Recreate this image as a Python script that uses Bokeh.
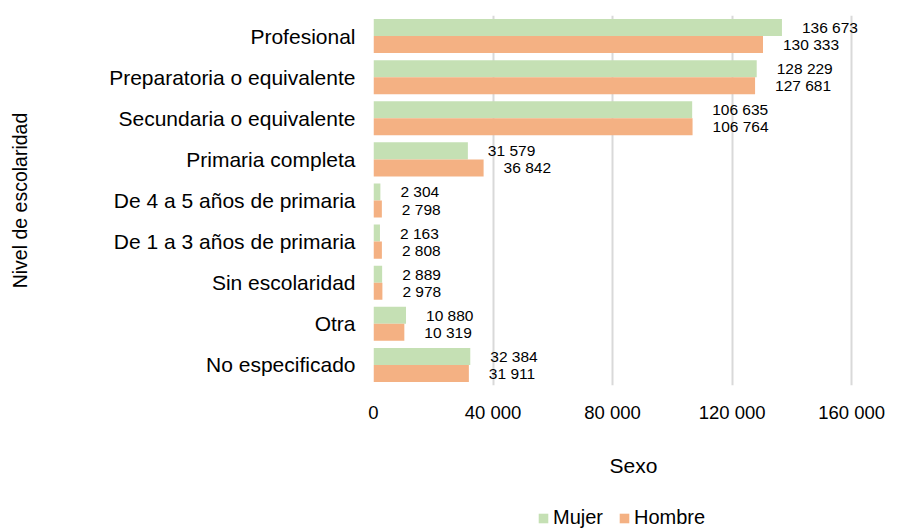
from bokeh.plotting import figure
from bokeh.layouts import column
from bokeh.models import (ColumnDataSource, FactorRange, Range1d, FixedTicker,
                          CustomJSTickFormatter, Legend, LegendItem)
from bokeh.transform import dodge
from bokeh.core.properties import value
from bokeh.embed import file_html
from bokeh.resources import INLINE

categories = ["Profesional", "Preparatoria o equivalente", "Secundaria o equivalente",
              "Primaria completa", "De 4 a 5 años de primaria", "De 1 a 3 años de primaria",
              "Sin escolaridad", "Otra", "No especificado"]
mujer = [136673, 128229, 106635, 31579, 2304, 2163, 2889, 10880, 32384]
hombre = [130333, 127681, 106764, 36842, 2798, 2808, 2978, 10319, 31911]
x_ticks = [0, 40000, 80000, 120000, 160000]
series_names = ["Mujer", "Hombre"]

FONT = "Liberation Sans"
GREEN = "#C5E0B4"
ORANGE = "#F4B183"


def fmt(v):
    return f"{v:,}".replace(",", " ")


src = ColumnDataSource(dict(
    cat=categories,
    mujer=mujer,
    hombre=hombre,
    mujer_lbl=[fmt(v) for v in mujer],
    hombre_lbl=[fmt(v) for v in hombre],
))

p = figure(width=917, height=490, output_backend="svg", toolbar_location=None,
           y_range=FactorRange(factors=list(reversed(categories))),
           x_range=Range1d(0, 174000),
           min_border_left=373, min_border_right=24, min_border_top=15, min_border_bottom=105)
p.outline_line_color = None
p.background_fill_color = None
p.border_fill_color = "white"

p.hbar(y=dodge("cat", 0.207, range=p.y_range), right="mujer", left=0, height=0.414,
       source=src, fill_color=GREEN, line_color=None)
p.hbar(y=dodge("cat", -0.207, range=p.y_range), right="hombre", left=0, height=0.414,
       source=src, fill_color=ORANGE, line_color=None)

p.text(x="mujer", y=dodge("cat", 0.207, range=p.y_range), text="mujer_lbl", source=src,
       x_offset=20, text_align="left", text_baseline="middle",
       text_font=value(FONT), text_font_size="15.5px", text_color="#000000")
p.text(x="hombre", y=dodge("cat", -0.207, range=p.y_range), text="hombre_lbl", source=src,
       x_offset=20, text_align="left", text_baseline="middle",
       text_font=value(FONT), text_font_size="15.5px", text_color="#000000")

# grid
p.ygrid.grid_line_color = None
p.xgrid.ticker = FixedTicker(ticks=x_ticks)
p.xgrid.grid_line_color = "#D9D9D9"
p.xgrid.grid_line_width = 2

# x axis
xa = p.xaxis[0]
xa.ticker = FixedTicker(ticks=x_ticks)
xa.formatter = CustomJSTickFormatter(code="return tick.toLocaleString('en-US').replace(/,/g, ' ');")
xa.axis_line_color = None
xa.major_tick_line_color = None
xa.minor_tick_line_color = None
xa.major_tick_out = 0
xa.major_label_standoff = 16
xa.major_label_text_font = FONT
xa.major_label_text_font_size = "18.5px"
xa.major_label_text_color = "#000000"
xa.axis_label = "Sexo"
xa.axis_label_text_font = FONT
xa.axis_label_text_font_size = "21px"
xa.axis_label_text_font_style = "normal"
xa.axis_label_text_color = "#000000"
xa.axis_label_standoff = 28

# y axis
ya = p.yaxis[0]
ya.axis_line_color = None
ya.major_tick_line_color = None
ya.minor_tick_line_color = None
ya.major_tick_out = 0
ya.major_label_standoff = 18
ya.major_label_text_font = FONT
ya.major_label_text_font_size = "21px"
ya.major_label_text_color = "#000000"
ya.axis_label = "Nivel de escolaridad"
ya.axis_label_text_font = FONT
ya.axis_label_text_font_size = "19.5px"
ya.axis_label_text_font_style = "normal"
ya.axis_label_text_color = "#000000"
ya.axis_label_standoff = 75

# legend strip below the chart (frame aligned with the chart's frame);
# its hidden bars only provide the legend swatches
lg = figure(width=917, height=40, output_backend="svg", toolbar_location=None,
            x_range=Range1d(-2, -1), y_range=FactorRange(factors=list(reversed(categories))),
            min_border_left=373, min_border_right=24, min_border_top=0, min_border_bottom=0)
lg.axis.visible = False
lg.grid.visible = False
lg.outline_line_color = None
lg.background_fill_color = None
lg.border_fill_color = "white"
lm = lg.hbar(y="cat", right="mujer", left=0, height=0.4, source=src,
             fill_color=GREEN, line_color=None, visible=False)
lh = lg.hbar(y="cat", right="hombre", left=0, height=0.4, source=src,
             fill_color=ORANGE, line_color=None, visible=False)
legend = Legend(items=[LegendItem(label=series_names[0], renderers=[lm], index=0),
                       LegendItem(label=series_names[1], renderers=[lh], index=0)],
                orientation="horizontal", location=(164, 1),
                glyph_width=12, glyph_height=12, label_height=22, label_standoff=4,
                spacing=15, padding=0, margin=0,
                label_text_font=FONT, label_text_font_size="20px", label_text_color="#000000",
                inactive_fill_alpha=0,
                border_line_color=None, background_fill_alpha=0)
lg.add_layout(legend, "center")

layout = column(p, lg, spacing=0)
open("out.html", "w").write(file_html(layout, INLINE))
